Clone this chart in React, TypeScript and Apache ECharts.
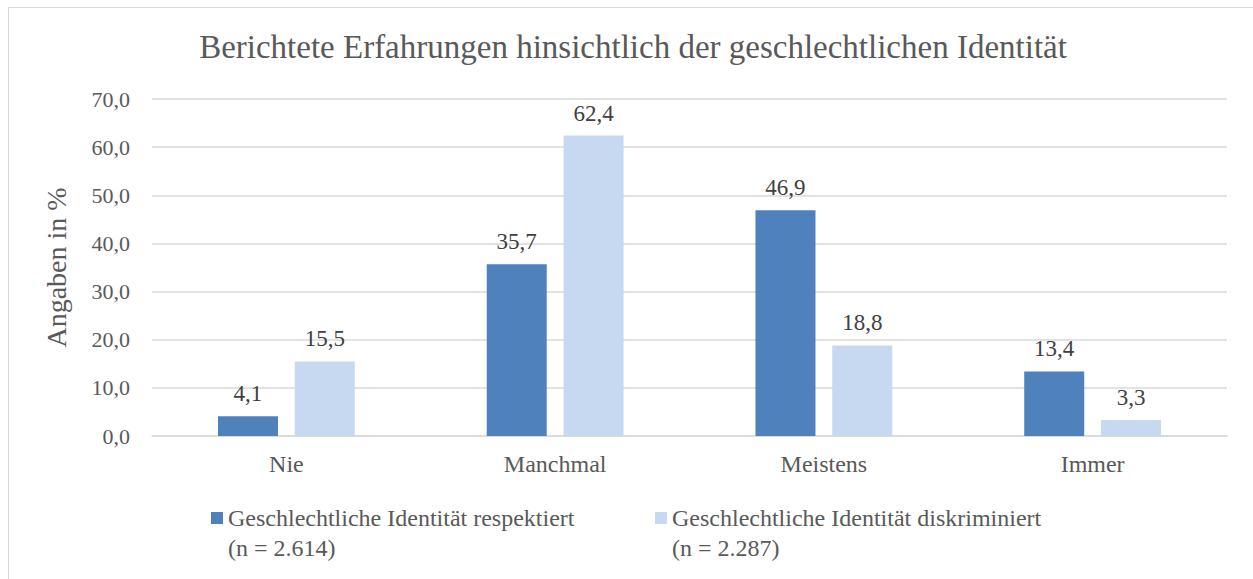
import React, { useEffect, useRef } from "react";
import * as echarts from "echarts";

const categories = ["Nie", "Manchmal", "Meistens", "Immer"];
const respektiert = [4.1, 35.7, 46.9, 13.4];
const diskriminiert = [15.5, 62.4, 18.8, 3.3];
const seriesNames = [
  "Geschlechtliche Identität respektiert\n(n = 2.614)",
  "Geschlechtliche Identität diskriminiert\n(n = 2.287)",
];
const titleText = "Berichtete Erfahrungen hinsichtlich der geschlechtlichen Identität";
const yAxisName = "Angaben in %";

const FONT = "'Liberation Serif', 'DejaVu Serif', serif";
const fmt = (v: number) => v.toFixed(1).replace(".", ",");
const legendIcon = "path://M0,0h12v12h-12z M0,42h12";

export default function App() {
  const ref = useRef<HTMLDivElement>(null);
  useEffect(() => {
    if (!ref.current) return;
    const chart = echarts.init(ref.current, undefined, { renderer: "svg" });
    const labelStyle = {
      show: true,
      position: "top" as const,
      distance: 11,
      fontFamily: FONT,
      fontSize: 23,
      color: "#404040",
      formatter: (p: any) => fmt(p.value),
    };
    const legendText = { fontFamily: FONT, fontSize: 24, color: "#595959", lineHeight: 30 };
    chart.setOption({
      animation: false,
      title: {
        text: titleText,
        left: "center",
        top: 17,
        textStyle: { fontFamily: FONT, fontSize: 33, fontWeight: "normal", color: "#595959" },
      },
      grid: { left: 143, right: 30, top: 91, bottom: 162 },
      legend: [
        {
          data: [seriesNames[0]],
          left: 202,
          top: 495,
          padding: 0,
          icon: legendIcon,
          itemWidth: 12,
          itemHeight: 42,
          itemGap: 0,
          textStyle: legendText,
        },
        {
          data: [seriesNames[1]],
          left: 646,
          top: 495,
          padding: 0,
          icon: legendIcon,
          itemWidth: 12,
          itemHeight: 42,
          itemGap: 0,
          textStyle: legendText,
        },
      ],
      xAxis: {
        type: "category",
        data: categories,
        axisTick: { show: false },
        axisLine: { lineStyle: { color: "#d9d9d9", width: 1.5 } },
        axisLabel: { fontFamily: FONT, fontSize: 24, color: "#595959", margin: 16 },
      },
      yAxis: {
        type: "value",
        min: 0,
        max: 70,
        interval: 10,
        name: yAxisName,
        nameLocation: "middle",
        nameGap: 82,
        nameTextStyle: { fontFamily: FONT, fontSize: 28, color: "#595959" },
        axisLabel: { fontFamily: FONT, fontSize: 22, color: "#595959", margin: 22, formatter: (v: number) => fmt(v) },
        splitLine: { lineStyle: { color: "#d9d9d9", width: 1.5 } },
        axisLine: { show: false },
        axisTick: { show: false },
      },
      series: [
        {
          name: seriesNames[0],
          type: "bar",
          data: respektiert,
          barWidth: 60,
          barGap: "28%",
          itemStyle: { color: "#4f81bd" },
          label: labelStyle,
        },
        {
          name: seriesNames[1],
          type: "bar",
          data: diskriminiert,
          barWidth: 60,
          itemStyle: { color: "#c6d9f1" },
          label: labelStyle,
        },
      ],
    });
    return () => chart.dispose();
  }, []);
  return (
    <div
      ref={ref}
      style={{
        position: "fixed",
        left: 8,
        top: 7,
        width: 1248,
        height: 590,
        border: "1px solid #d9d9d9",
        background: "#fff",
      }}
    />
  );
}
